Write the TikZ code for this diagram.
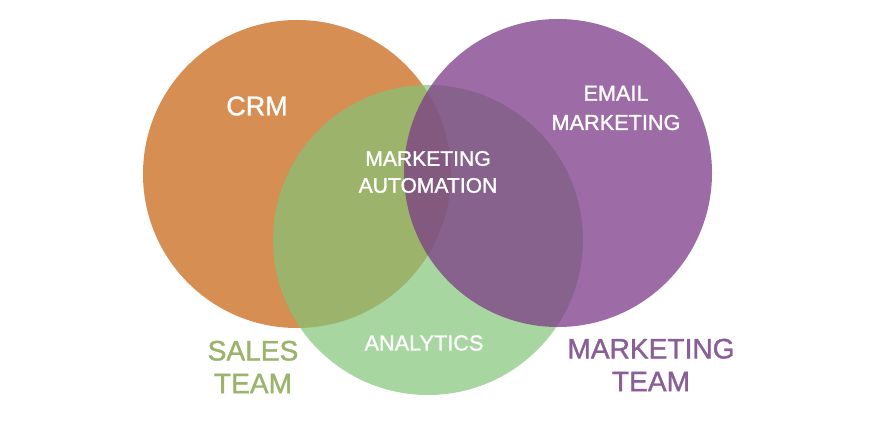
\documentclass[tikz,border=0pt]{standalone}
\usepackage{fontspec}
\setmainfont{Liberation Sans}
\newfontfamily\vennfont{Liberation Sans}[FakeBold=1.3]
\usetikzlibrary{positioning}

\definecolor{crmorange}{HTML}{D68E52}
\definecolor{anagreen}{RGB}{131,196,119}
\definecolor{mktpurple}{RGB}{124,59,136}
\definecolor{salestext}{HTML}{9BB36A}
\definecolor{mkttext}{HTML}{8A5E96}

\begin{document}
\begin{tikzpicture}[x=0.03cm, y=-0.03cm, circ/.style={circle, inner sep=0pt, minimum size=9.24cm}, lbl/.style={text=white, align=center, font=\vennfont\fontsize{18}{23}\selectfont}, team/.style={align=center, font=\vennfont\fontsize{24}{28}\selectfont}]
        \useasboundingbox (0,0) rectangle (870,422);

        % the three sets
        \node[circ, fill=crmorange] (crm) at (297,174) {};
        \node[circ, fill=anagreen, fill opacity=0.7, minimum size=9.3cm] (ana) at (428,240) {};
        \node[circ, fill=mktpurple, fill opacity=0.75] (mkt) at (558,173) {};

        % labels inside
        \node[lbl, font=\vennfont\fontsize{23}{27}\selectfont] (crmlbl) at (257,106) {CRM};
        \node[lbl, font=\vennfont\fontsize{18.5}{25}\selectfont] (emaillbl) at (616,108) {EMAIL\\MARKETING};
        \node[lbl] (autolbl) at (428,172) {MARKETING\\AUTOMATION};
        \node[lbl, font=\vennfont\fontsize{18.5}{23}\selectfont] (analbl) at (424,343) {ANALYTICS};

        % teams
        \node[team, text=salestext] (sales) at (253,367) {SALES\\TEAM};
        \node[team, text=mkttext] (mktteam) at (651,365) {MARKETING\\TEAM};
    \end{tikzpicture}
\end{document}
